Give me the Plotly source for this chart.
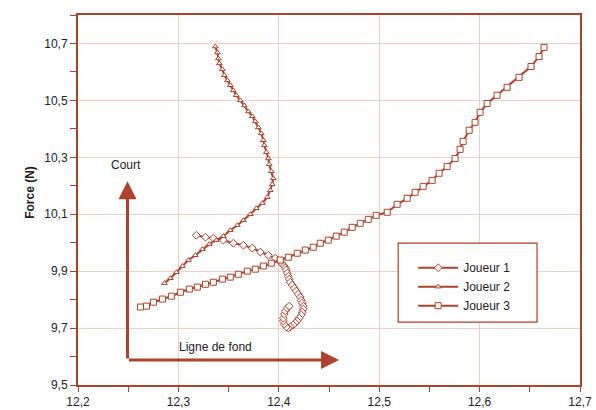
import plotly.graph_objects as go

# Joueur 1 (diamonds)
j1_x = [12.3179, 12.3269, 12.3348, 12.3448, 12.3547, 12.3647, 12.3736, 12.3816, 12.3896, 12.3965,
        12.4015, 12.4035, 12.4055, 12.4065, 12.4075, 12.4085, 12.4095, 12.4104, 12.4114, 12.4134,
        12.4154, 12.4174, 12.4194, 12.4214, 12.4224, 12.4234, 12.4244, 12.4244, 12.4234, 12.4224,
        12.4204, 12.4184, 12.4164, 12.4144, 12.4114, 12.4095, 12.4075, 12.4055, 12.4045, 12.4045,
        12.4055, 12.4065, 12.4085, 12.4104]
j1_y = [10.026, 10.019, 10.016, 10.009, 9.998, 9.991, 9.981, 9.967, 9.956, 9.946,
        9.932, 9.925, 9.918, 9.911, 9.904, 9.893, 9.882, 9.872, 9.861, 9.851,
        9.840, 9.830, 9.819, 9.809, 9.798, 9.788, 9.777, 9.767, 9.756, 9.746,
        9.735, 9.725, 9.718, 9.711, 9.704, 9.700, 9.704, 9.714, 9.725, 9.735,
        9.749, 9.760, 9.770, 9.777]

# Joueur 2 (triangles)
j2_x = [12.2861, 12.2920, 12.2980, 12.3040, 12.3100, 12.3169, 12.3239, 12.3308, 12.3378, 12.3448,
        12.3517, 12.3587, 12.3647, 12.3716, 12.3776, 12.3836, 12.3886, 12.3915, 12.3935, 12.3945,
        12.3925, 12.3905, 12.3896, 12.3876, 12.3856, 12.3846, 12.3826, 12.3796, 12.3766, 12.3736,
        12.3697, 12.3657, 12.3617, 12.3577, 12.3547, 12.3517, 12.3488, 12.3458, 12.3438, 12.3408,
        12.3398, 12.3388, 12.3368]
j2_y = [9.858, 9.875, 9.896, 9.918, 9.939, 9.956, 9.977, 9.995, 10.009, 10.023,
        10.044, 10.061, 10.079, 10.100, 10.121, 10.139, 10.160, 10.184, 10.205, 10.226,
        10.251, 10.275, 10.296, 10.318, 10.342, 10.360, 10.384, 10.405, 10.426, 10.444,
        10.461, 10.482, 10.500, 10.518, 10.535, 10.553, 10.570, 10.588, 10.609, 10.630,
        10.647, 10.668, 10.689]

# Joueur 3 (squares)
j3_x = [12.2622, 12.2682, 12.2751, 12.2841, 12.2930, 12.3020, 12.3109, 12.3189, 12.3269, 12.3348,
        12.3438, 12.3517, 12.3597, 12.3687, 12.3766, 12.3846, 12.3925, 12.4015, 12.4095, 12.4184,
        12.4264, 12.4343, 12.4413, 12.4493, 12.4572, 12.4652, 12.4731, 12.4811, 12.4891, 12.4970,
        12.5080, 12.5179, 12.5279, 12.5358, 12.5438, 12.5527, 12.5597, 12.5677, 12.5756, 12.5806,
        12.5836, 12.5896, 12.5955, 12.6005, 12.6075, 12.6174, 12.6274, 12.6393, 12.6512, 12.6592,
        12.6642]
j3_y = [9.774, 9.777, 9.791, 9.802, 9.812, 9.826, 9.837, 9.844, 9.854, 9.861,
        9.872, 9.879, 9.889, 9.900, 9.907, 9.918, 9.928, 9.939, 9.949, 9.963,
        9.974, 9.984, 9.998, 10.009, 10.023, 10.037, 10.054, 10.068, 10.082, 10.096,
        10.107, 10.135, 10.156, 10.177, 10.198, 10.219, 10.244, 10.268, 10.296, 10.328,
        10.356, 10.395, 10.423, 10.458, 10.489, 10.518, 10.546, 10.581, 10.619, 10.654,
        10.686]

series_names = ["Joueur 1", "Joueur 2", "Joueur 3"]
x_ticks = [12.2, 12.3, 12.4, 12.5, 12.6, 12.7]
y_ticks = [9.5, 9.7, 9.9, 10.1, 10.3, 10.5, 10.7]

RED = "#b0412a"
GRID = "#f1cfc6"
FONT = "Liberation Sans"

fig = go.Figure()
specs = [(j1_x, j1_y, "diamond", 6), (j2_x, j2_y, "triangle-up", 5), (j3_x, j3_y, "square", 6)]
for name, (xs, ys, sym, sz) in zip(series_names, specs):
    fig.add_trace(go.Scatter(
        x=xs, y=ys, name=name, mode="lines+markers",
        line=dict(color=RED, width=2),
        marker=dict(symbol=sym, size=sz, color="white", line=dict(color=RED, width=1)),
    ))

# Arrows
fig.add_annotation(x=12.2493, y=10.216, ax=12.2493, ay=9.588, xref="x", yref="y",
                   axref="x", ayref="y", showarrow=True, arrowhead=2, arrowsize=1.2,
                   arrowwidth=3, arrowcolor=RED, text="")
fig.add_annotation(x=12.460, y=9.588, ax=12.2493, ay=9.588, xref="x", yref="y",
                   axref="x", ayref="y", showarrow=True, arrowhead=2, arrowsize=1.2,
                   arrowwidth=3, arrowcolor=RED, text="")
fig.add_annotation(x=12.2475, y=10.272, xref="x", yref="y", text="Court", showarrow=False,
                   font=dict(family=FONT, size=12, color="#222"))
fig.add_annotation(x=12.337, y=9.635, xref="x", yref="y", text="Ligne de fond", showarrow=False,
                   font=dict(family=FONT, size=12, color="#222"))
# y-axis title
fig.add_annotation(x=(21 - 77.5) / 502.5, y=(385 - 192) / 370.5, xref="paper", yref="paper",
                   text="<b>Force (N)</b>", textangle=-90, showarrow=False,
                   font=dict(family=FONT, size=12, color="#222"))

# legend box
fig.add_shape(type="rect", xref="paper", yref="paper",
              x0=(398 - 77.5) / 502.5, x1=(537 - 77.5) / 502.5,
              y0=(385 - 322) / 370.5, y1=(385 - 243) / 370.5,
              line=dict(color=RED, width=1.2), fillcolor="white", layer="above")

fig.update_layout(
    width=596, height=410,
    margin=dict(l=77.5, r=16, t=14.5, b=25, autoexpand=False),
    paper_bgcolor="white", plot_bgcolor="white",
    separators=", ",
    font=dict(family=FONT, size=12, color="#222"),
    showlegend=True,
    legend=dict(x=(413 - 77.5) / 502.5, y=(385 - 253) / 370.5, xanchor="left", yanchor="top",
                bgcolor="rgba(0,0,0,0)", borderwidth=0,
                font=dict(family=FONT, size=12, color="#222"), tracegroupgap=0,
                itemwidth=40),
    xaxis=dict(range=[12.2, 12.7], tickvals=x_ticks, tickformat=".1f", automargin=False,
               showgrid=True, gridcolor=GRID, gridwidth=1,
               showline=True, linecolor=RED, linewidth=2, mirror=True,
               ticks="outside", ticklen=5, tickcolor=RED, tickwidth=1,
               minor=dict(dtick=0.05, tick0=12.2, ticks="outside", ticklen=5, tickcolor=RED,
                          showgrid=False),
               zeroline=False, tickfont=dict(size=12, color="#222")),
    yaxis=dict(range=[9.5, 10.8], tickvals=y_ticks, tickformat=".1f", automargin=False,
               showgrid=True, gridcolor=GRID, gridwidth=1,
               showline=True, linecolor=RED, linewidth=2, mirror=True,
               ticks="outside", ticklen=6, tickcolor=RED, tickwidth=1,
               minor=dict(dtick=0.1, tick0=9.5, ticks="outside", ticklen=6, tickcolor=RED,
                          showgrid=False),
               zeroline=False, tickfont=dict(size=12, color="#222")),
)

fig.write_html("out.html", config={"displayModeBar": False},
               post_script="document.body.style.margin='0px';document.body.style.overflow='hidden';")
